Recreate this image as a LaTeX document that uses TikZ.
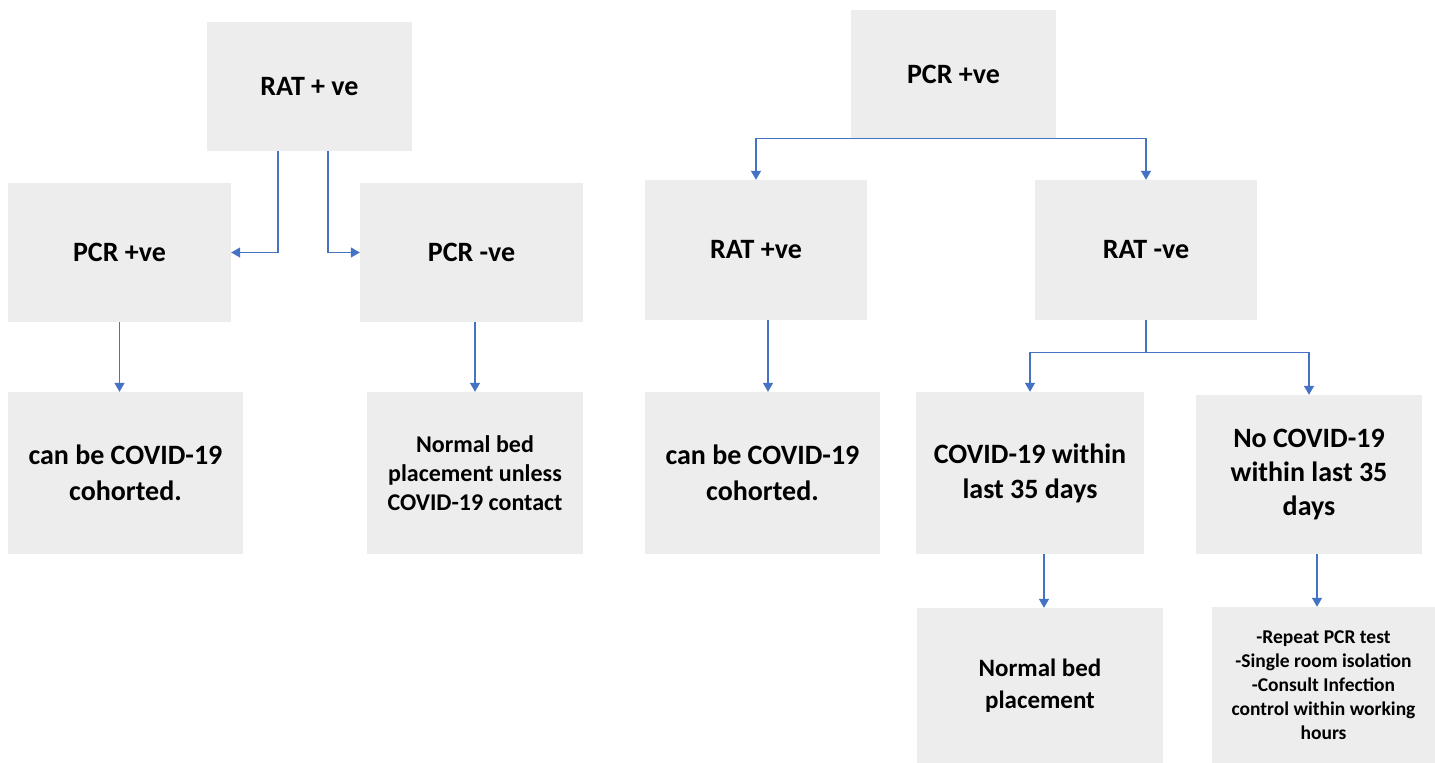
\documentclass[tikz,border=0pt]{standalone}
\usepackage{fontspec}
\setmainfont{Carlito}
\usetikzlibrary{arrows.meta,calc}
\definecolor{boxgray}{RGB}{237,237,237}
\definecolor{linkblue}{RGB}{68,114,196}
\tikzset{
  box/.style={rectangle, fill=boxgray, draw=none, inner sep=0pt, align=center, text=black,
    font=\fontsize{28}{35}\selectfont\bfseries},
  link/.style={draw=linkblue, line width=1.3pt},
  arr/.style={link, -{Triangle[length=9pt,width=10pt]}}
}
\begin{document}
\begin{tikzpicture}[x=1pt,y=-1pt]
\useasboundingbox[fill=white] (0,0) rectangle (1435,763);
% left tree
\node[box, minimum width=205pt, minimum height=129pt] (b1) at (309.5,86.5) {RAT + ve};
\node[box, minimum width=223pt, minimum height=139pt] (b2) at (119.5,252.5) {PCR +ve};
\node[box, minimum width=223pt, minimum height=139pt] (b3) at (471.5,252.5) {PCR -ve};
\node[box, minimum width=235pt, minimum height=162pt, font=\fontsize{28}{36}\selectfont\bfseries] (b4) at (125.5,473) {can be COVID-19\\cohorted.};
\node[box, minimum width=216pt, minimum height=162pt, font=\fontsize{24}{29}\selectfont\bfseries] (b5) at (475,473) {Normal bed\\placement unless\\COVID-19 contact};
% right tree
\node[box, minimum width=205pt, minimum height=128pt] (b6) at (953.5,74) {PCR +ve};
\node[box, minimum width=222pt, minimum height=140pt] (b7) at (756,250) {RAT +ve};
\node[box, minimum width=222pt, minimum height=140pt] (b8) at (1146,250) {RAT -ve};
\node[box, minimum width=235pt, minimum height=162pt, font=\fontsize{28}{36}\selectfont\bfseries] (b9) at (762.5,473) {can be COVID-19\\cohorted.};
\node[box, minimum width=228pt, minimum height=162pt] (b10) at (1030,473) {COVID-19 within\\last 35 days};
\node[box, minimum width=226pt, minimum height=159pt, font=\fontsize{28}{34}\selectfont\bfseries] (b11) at (1309,474.5) {No COVID-19\\within last 35\\days};
\node[box, minimum width=246pt, minimum height=155pt, font=\fontsize{25}{32}\selectfont\bfseries] (b12) at (1040,685.5) {Normal bed\\placement};
\node[box, minimum width=223pt, minimum height=156pt, font=\fontsize{19.5}{24}\selectfont\bfseries] (b13) at (1323.5,685) {-Repeat PCR test\\-Single room isolation\\-Consult Infection\\control within working\\hours};
% connectors left
\draw[arr] ([xshift=-31.5pt]b1.south) |- (b2.east);
\draw[arr] ([xshift=18.5pt]b1.south) |- (b3.west);
\draw[arr] (b2.south) -- (b2.south |- b4.north);
\draw[arr] (b5.north |- b3.south) -- (b5.north);
% connectors right
\draw[arr] (b6.south) -| (b7.north);
\draw[arr] (b6.south) -| (b8.north);
\draw[arr] ([xshift=12pt]b7.south) -- ([xshift=5.5pt]b9.north);
\coordinate (j) at ($(b8.south)+(0,32)$);
\draw[link] (b8.south) -- (j);
\draw[arr] (j) -| (b10.north);
\draw[arr] (j) -| (b11.north);
\draw[arr] ([xshift=14pt]b10.south) -- ([xshift=4pt]b12.north);
\draw[arr] ([xshift=8pt]b11.south) -- ([xshift=-6.5pt]b13.north);
\end{tikzpicture}
\end{document}
